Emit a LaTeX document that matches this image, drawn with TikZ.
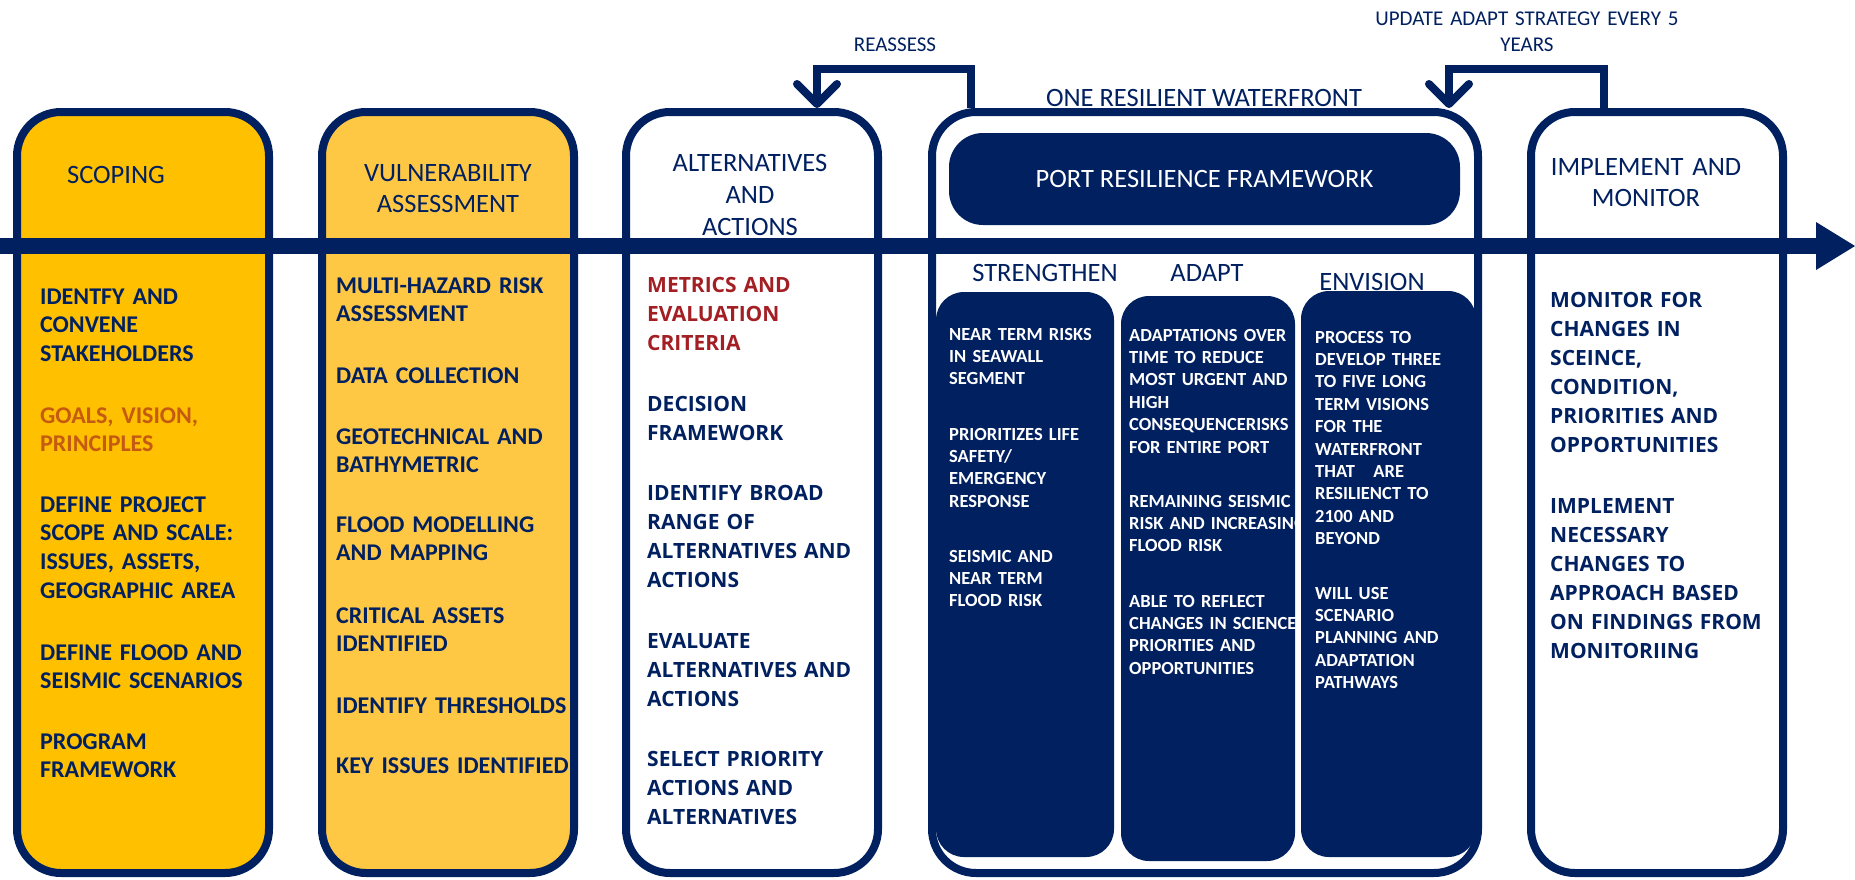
\documentclass[tikz,border=0pt]{standalone}
\usepackage{fontspec}
\setmainfont{Carlito}
\newfontfamily\wideface{Open Sans}
\usetikzlibrary{arrows.meta}
\definecolor{navy}{HTML}{002060}
\definecolor{gold}{HTML}{FFC000}
\definecolor{lightgold}{HTML}{FFC844}
\definecolor{burnt}{HTML}{C55A11}
\definecolor{crimson}{HTML}{A31F24}
\tikzset{
  stage/.style={draw=navy, line width=8pt, rounded corners=44pt, minimum width=252pt, minimum height=761pt, inner sep=0pt},
  panel/.style={fill=navy, inner sep=0pt, rounded corners=28pt},
  head/.style={text=navy, font=\fontsize{26.5pt}{31pt}\selectfont, inner sep=0pt},
  mhead/.style={head, text width=300pt, align=center, anchor=base},
  item/.style={text=navy, font=\bfseries\fontsize{24pt}{28.8pt}\selectfont, text width=300pt, align=left, anchor=base west, inner sep=0pt},
  witem/.style={item, font=\wideface\bfseries\fontsize{21pt}{29pt}\selectfont},
  pitem/.style={item, text=white, font=\bfseries\fontsize{18.5pt}{22.4pt}\selectfont},
  small/.style={text=navy, font=\fontsize{21pt}{26pt}\selectfont, inner sep=0pt},
  loopline/.style={draw=navy, line width=8pt, -{Straight Barb[length=20pt,width=40pt,round]}},
}
\begin{document}
\begin{tikzpicture}[x=1pt,y=-1pt]
\useasboundingbox[fill=white] (0,0) rectangle (1855,879);

% stage boxes
\node[stage, fill=gold] (scop) at (143,492.5) {};
\node[stage, fill=lightgold] (vuln) at (448,492.5) {};
\node[stage, fill=white] (alt) at (752,492.5) {};
\node[stage, fill=white, minimum width=546pt] (one) at (1205,492.5) {};
\node[stage, fill=white] (impl) at (1657,492.5) {};

% headings
\node[head] (hscop) at (116,175) {SCOPING};
\node[mhead] (hvuln) at (448,181.5) {VULNERABILITY\\ASSESSMENT};
\node[mhead, font=\fontsize{26.5pt}{32pt}\selectfont] (halt) at (750,171.5) {ALTERNATIVES\\AND\\ACTIONS};
\node[mhead] (himpl) at (1646,175.5) {IMPLEMENT AND\\MONITOR};
\node[head] (hone) at (1204,98) {ONE RESILIENT WATERFRONT};
\node[head] (hstr) at (1045,273) {STRENGTHEN};
\node[head] (hada) at (1207,273) {ADAPT};
\node[head] (henv) at (1372,282) {ENVISION};

% feedback labels
\node[small] (lreass) at (895,45) {REASSESS};
\node[small, text width=400pt, align=center, anchor=base] (lupd) at (1527,25.8) {UPDATE ADAPT STRATEGY EVERY 5\\YEARS};

% feedback loops
\draw[loopline] ([xshift=43pt]one.north west) -- ++(0,-39) -| ([xshift=195pt]alt.north west);
\draw[loopline] ([xshift=77pt]impl.north west) -- ++(0,-39) -| ([xshift=-33pt]one.north east);

% scoping items
\node[item] (s1) at (40,304) {IDENTFY AND\\CONVENE\\STAKEHOLDERS};
\node[item, text=burnt] (s2) at (40,423) {GOALS, VISION,\\PRINCIPLES};
\node[item] (s3) at (40,512) {DEFINE PROJECT\\SCOPE AND SCALE:\\ISSUES, ASSETS,\\GEOGRAPHIC AREA};
\node[item] (s4) at (40,660) {DEFINE FLOOD AND\\SEISMIC SCENARIOS};
\node[item] (s5) at (40,749) {PROGRAM\\FRAMEWORK};

% vulnerability items
\node[item] (v1) at (336,293) {MULTI-HAZARD RISK\\ASSESSMENT};
\node[item] (v2) at (336,383) {DATA COLLECTION};
\node[item] (v3) at (336,444) {GEOTECHNICAL AND\\BATHYMETRIC};
\node[item] (v4) at (336,532) {FLOOD MODELLING\\AND MAPPING};
\node[item] (v5) at (336,623) {CRITICAL ASSETS\\IDENTIFIED};
\node[item] (v6) at (336,713) {IDENTIFY THRESHOLDS};
\node[item] (v7) at (336,773) {KEY ISSUES IDENTIFIED};

% alternatives items
\node[witem, text=crimson] (a1) at (647,292.5) {METRICS AND\\EVALUATION\\CRITERIA};
\node[witem] (a2) at (647,411.5) {DECISION\\FRAMEWORK};
\node[witem] (a3) at (647,500.5) {IDENTIFY BROAD\\RANGE OF\\ALTERNATIVES AND\\ACTIONS};
\node[witem] (a4) at (647,648.5) {EVALUATE\\ALTERNATIVES AND\\ACTIONS};
\node[witem] (a5) at (647,766.5) {SELECT PRIORITY\\ACTIONS AND\\ALTERNATIVES};

% implement items
\node[witem] (m1) at (1550,307.5) {MONITOR FOR\\CHANGES IN\\SCEINCE,\\CONDITION,\\PRIORITIES AND\\OPPORTUNITIES};
\node[witem] (m2) at (1550,513.5) {IMPLEMENT\\NECESSARY\\CHANGES TO\\APPROACH BASED\\ON FINDINGS FROM\\MONITORIING};

% port resilience framework
\node[panel, rounded corners=34pt, minimum width=511pt, minimum height=92pt, text=white, font=\fontsize{26.5pt}{31pt}\selectfont] (port) at (1204.5,179) {PORT RESILIENCE FRAMEWORK};

% strengthen
\node[panel, minimum width=178pt, minimum height=565pt] (str) at (1025,574.5) {};
\node[pitem] (p1) at (949,340) {NEAR TERM RISKS\\IN SEAWALL\\SEGMENT};
\node[pitem] (p2) at (949,440) {PRIORITIZES LIFE\\SAFETY/\\EMERGENCY\\RESPONSE};
\node[pitem] (p3) at (949,562) {SEISMIC AND\\NEAR TERM\\FLOOD RISK};

% adapt
\node[panel, minimum width=174pt, minimum height=565pt] (ada) at (1208,578.5) {};
\node[pitem] (q1) at (1129,341) {ADAPTATIONS OVER\\TIME TO REDUCE\\MOST URGENT AND\\HIGH\\CONSEQUENCERISKS\\FOR ENTIRE PORT};
\node[pitem] (q2) at (1129,507) {REMAINING SEISMIC\\RISK AND INCREASING\\FLOOD RISK};
\node[pitem] (q3) at (1129,607) {ABLE TO REFLECT\\CHANGES IN SCIENCE,\\PRIORITIES AND\\OPPORTUNITIES};

% envision
\node[panel, minimum width=175pt, minimum height=566pt] (env) at (1388.5,574) {};
\node[pitem] (e1) at (1315,343) {PROCESS TO\\DEVELOP THREE\\TO FIVE LONG\\TERM VISIONS\\FOR THE\\WATERFRONT\\THAT\ \ \ ARE\\RESILIENCT TO\\2100 AND\\BEYOND};
\node[pitem] (e2) at (1315,599) {WILL USE\\SCENARIO\\PLANNING AND\\ADAPTATION\\PATHWAYS};

% main timeline arrow
\coordinate (tl0) at (0,246);
\coordinate (tl1) at (1816,246);
\coordinate (tip) at (1855,246);
\draw[navy, line width=16pt] (tl0) -- ([xshift=4pt]tl1);
\fill[navy] ([yshift=24pt]tl1) -- (tip) -- ([yshift=-24pt]tl1) -- cycle;
\end{tikzpicture}
\end{document}
